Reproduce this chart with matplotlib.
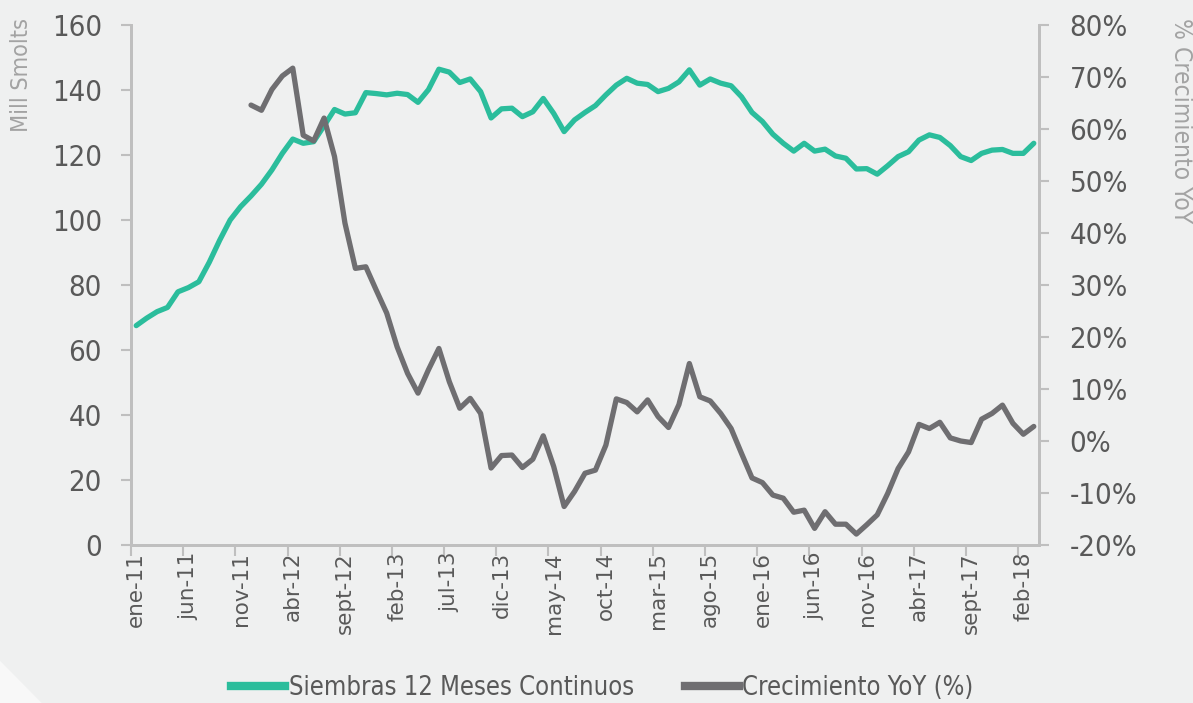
import matplotlib
matplotlib.use("Agg")
import matplotlib.pyplot as plt
from matplotlib import font_manager as fm
from matplotlib.lines import Line2D
from matplotlib.patches import Polygon
import numpy as np

# ---- data ----
months = ["ene", "feb", "mar", "abr", "may", "jun", "jul", "ago", "sept", "oct", "nov", "dic"]
n_points = 87  # ene-11 .. mar-18
labels_all = [f"{months[k % 12]}-{11 + k // 12}" for k in range(n_points)]

siembras = [67.5, 69.8, 71.8, 73.1, 77.9, 79.2, 81.0, 87.0, 93.8, 100.0,
            104.1, 107.4, 111.0, 115.4, 120.5, 124.9, 123.6, 124.1, 129.0, 134.0,
            132.6, 133.0, 139.2, 138.9, 138.5, 139.0, 138.6, 136.2, 140.1, 146.4,
            145.5, 142.3, 143.4, 139.5, 131.4, 134.2, 134.4, 131.8, 133.3, 137.4,
            132.8, 127.2, 130.8, 133.1, 135.2, 138.5, 141.5, 143.6, 142.1, 141.7,
            139.5, 140.5, 142.5, 146.2, 141.5, 143.4, 142.1, 141.3, 137.9, 133.1,
            130.3, 126.4, 123.6, 121.2, 123.6, 121.2, 121.8, 119.7, 119.0, 115.7,
            115.8, 114.1, 116.7, 119.5, 121.0, 124.6, 126.2, 125.4, 122.9, 119.5,
            118.3, 120.5, 121.5, 121.7, 120.5, 120.5, 123.6]

crecimiento = [None] * 11 + [
            64.6, 63.6, 67.6, 70.2, 71.7, 58.8, 57.7, 62.1, 54.7,
            41.9, 33.2, 33.5, 29.0, 24.6, 18.1, 13.0, 9.2, 13.7, 17.8,
            11.4, 6.3, 8.2, 5.3, -5.2, -2.8, -2.7, -5.1, -3.5, 1.0,
            -4.9, -12.6, -9.7, -6.2, -5.6, -0.8, 8.1, 7.4, 5.6, 7.9,
            4.7, 2.6, 7.0, 14.9, 8.5, 7.7, 5.3, 2.4, -2.4, -7.1,
            -8.0, -10.4, -11.0, -13.7, -13.3, -16.8, -13.6, -16.0, -16.0, -17.9,
            -16.1, -14.2, -10.1, -5.3, -2.1, 3.2, 2.4, 3.6, 0.6, 0.0,
            -0.3, 4.2, 5.3, 6.9, 3.4, 1.3, 2.8]

left_ticks = [0, 20, 40, 60, 80, 100, 120, 140, 160]
right_ticks = [-20, -10, 0, 10, 20, 30, 40, 50, 60, 70, 80]
label_step = 5

# ---- fonts: look for a narrow / condensed face ----
narrow_path = None
for key in ("LiberationSansNarrow-Regular", "DejaVuSansCondensed.ttf",
            "Condensed-Regular", "Condensed", "Narrow"):
    for f in fm.fontManager.ttflist:
        base = f.fname.split("/")[-1]
        if key in base and "Bold" not in base and "Oblique" not in base and "Italic" not in base:
            narrow_path = f.fname
            break
    if narrow_path:
        break
if narrow_path:
    def NFP(size):
        return fm.FontProperties(fname=narrow_path, size=size)
    big = 21
else:
    def NFP(size):
        return fm.FontProperties(family="DejaVu Sans", size=size)
    big = 17

# ---- style ----
TEAL = "#2bbd9c"
GREY = "#6f6e71"
TXT = "#595959"
LIGHT = "#a3a3a3"
SPINE = "#bfbfbf"
BG = "#eff0f0"

fig = plt.figure(figsize=(11.93, 7.03), dpi=100, facecolor=BG)
fig.patches.append(Polygon([[0, 0], [0.035, 0], [0, 0.06]], closed=True,
                           transform=fig.transFigure, facecolor="#f8f8f8",
                           edgecolor="none", zorder=0))

ax = fig.add_axes([131 / 1193, 1 - 545 / 703, (1039 - 131) / 1193, (545 - 25) / 703])
ax.set_facecolor("none")
ax2 = ax.twinx()

x = np.arange(n_points) + 0.5
ax.plot(x, siembras, color=TEAL, lw=3.8, solid_joinstyle="round",
        solid_capstyle="round", zorder=3)
yoy = np.array([np.nan if v is None else v for v in crecimiento], dtype=float)
ax2.plot(x, yoy, color=GREY, lw=3.8, solid_joinstyle="round",
         solid_capstyle="round", zorder=3)

ax.set_xlim(0, n_points)
ax.set_ylim(0, 160)
ax2.set_ylim(-20, 80)

ax.set_yticks(left_ticks)
ax.set_yticklabels([str(v) for v in left_ticks])
ax2.set_yticks(right_ticks)
ax2.set_yticklabels([f"{v}%" for v in right_ticks])

bounds = np.arange(0, n_points, label_step)
ax.set_xticks(bounds)
ax.set_xticklabels([])
ax.set_xticks(bounds + 0.5, minor=True)
ax.set_xticklabels([labels_all[k] for k in bounds], minor=True, rotation=90,
                   fontsize=15.5, color=TXT, family="DejaVu Sans")
ax.tick_params(axis="x", which="major", length=8, width=1.5, color=SPINE, direction="out")
ax.tick_params(axis="x", which="minor", length=0, pad=5)

ax.tick_params(axis="y", length=7, width=1.5, color=SPINE, pad=14)
ax2.tick_params(axis="y", length=7, width=1.5, color=SPINE, pad=15)
for lab in ax.get_yticklabels() + ax2.get_yticklabels():
    lab.set_fontproperties(NFP(big))
    lab.set_color(TXT)

for a in (ax, ax2):
    a.spines["top"].set_visible(False)
    for s in ("left", "right", "bottom"):
        a.spines[s].set_color(SPINE)
        a.spines[s].set_linewidth(2)

fig.text(22 / 1193, 1 - 18 / 703, "Mill Smolts", rotation=90, ha="center", va="top",
         fontproperties=NFP(big * 0.8), color=LIGHT)
fig.text(1181 / 1193, 1 - 18 / 703, "% Crecimiento YoY", rotation=270, ha="center",
         va="top", fontproperties=NFP(big * 0.84), color=LIGHT)

leg_size = big * 0.875
handles = [Line2D([0], [0], color=TEAL, lw=6),
           Line2D([0], [0], color=GREY, lw=6)]
leg = fig.legend(handles, ["Siembras 12 Meses Continuos", "Crecimiento YoY (%)"],
                 loc="center", bbox_to_anchor=(0.505, 1 - 688 / 703), ncol=2,
                 frameon=False, handlelength=2.1, handletextpad=0.15, columnspacing=2.0,
                 prop=NFP(leg_size))
for t in leg.get_texts():
    t.set_color(TXT)

fig.savefig("out.png", dpi=100, facecolor=BG)
